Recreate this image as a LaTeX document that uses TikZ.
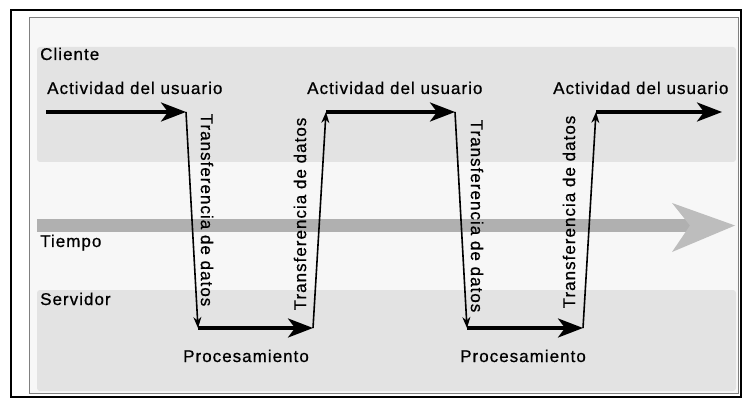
\documentclass[tikz,border=0pt]{standalone}
\usepackage{fontspec}
\setmainfont{Liberation Sans}[LetterSpace=6,FakeBold=0.7]
\usetikzlibrary{arrows.meta}
\begin{document}
\begin{tikzpicture}[x=1pt,y=-1pt,
    flujo/.style={line width=3.4pt,-{Stealth[length=25pt,width=19pt,inset=7pt]}},
    transfer/.style={line width=1.6pt,-{Stealth[length=11pt,width=8pt]}},
    txt/.style={font=\fontsize{17}{19}\selectfont,inner sep=0pt}]
    \useasboundingbox (0,0) rectangle (744,398);
    % marco y fondo
    \draw[line width=2pt] (11,10) rectangle (741,397);
    \draw[gray, fill=gray!6] (29,17) rectangle (738,393);
    % bandas cliente / servidor
    \fill[gray!22, rounded corners=3pt] (37,47) rectangle (736,162);
    \fill[gray!22, rounded corners=3pt] (37,290) rectangle (736,391);
    % eje del tiempo
    \fill[gray!62] (37,219) rectangle (692,232);
    \fill[gray!52] (672,203) -- (735,225.5) -- (672,252) -- (690,225.5) -- cycle;

    \coordinate (A0) at (46,112) ;
    \coordinate (A1) at (186,112) ;
    \coordinate (B1) at (198,328) ;
    \coordinate (B2) at (313,328) ;
    \coordinate (A2) at (326,112) ;
    \coordinate (A3) at (455,112) ;
    \coordinate (B3) at (467,328) ;
    \coordinate (B4) at (583,328) ;
    \coordinate (A4) at (596,112) ;
    \coordinate (A5) at (722,112) ;

    \node[txt, anchor=base west] (cliente) at (40,60) {Cliente};
    \node[txt, anchor=base west] (tiempo) at (40,247) {Tiempo};
    \node[txt, anchor=base west] (servidor) at (40,305) {Servidor};
    \node[txt, anchor=base west] (act1) at (47,94) {Actividad del usuario};
    \node[txt, anchor=base west] (act2) at (307,94) {Actividad del usuario};
    \node[txt, anchor=base west] (act3) at (553,94) {Actividad del usuario};
    \node[txt, anchor=base west] (proc1) at (183,362) {Procesamiento};
    \node[txt, anchor=base west] (proc2) at (460,362) {Procesamiento};
    \node[txt, rotate=-90] (tr1) at (207,210) {Transferencia de datos};
    \node[txt, rotate=90] (tr2) at (300,214) {Transferencia de datos};
    \node[txt, rotate=-90] (tr3) at (477,216) {Transferencia de datos};
    \node[txt, rotate=90] (tr4) at (569,212) {Transferencia de datos};

    \draw[flujo] (A0) -- (A1);
    \draw[transfer] (A1) -- (B1);
    \draw[flujo] (B1) -- (B2);
    \draw[transfer] (B2) -- (A2);
    \draw[flujo] (A2) -- (A3);
    \draw[transfer] (A3) -- (B3);
    \draw[flujo] (B3) -- (B4);
    \draw[transfer] (B4) -- (A4);
    \draw[flujo] (A4) -- (A5);

\end{tikzpicture}
\end{document}
